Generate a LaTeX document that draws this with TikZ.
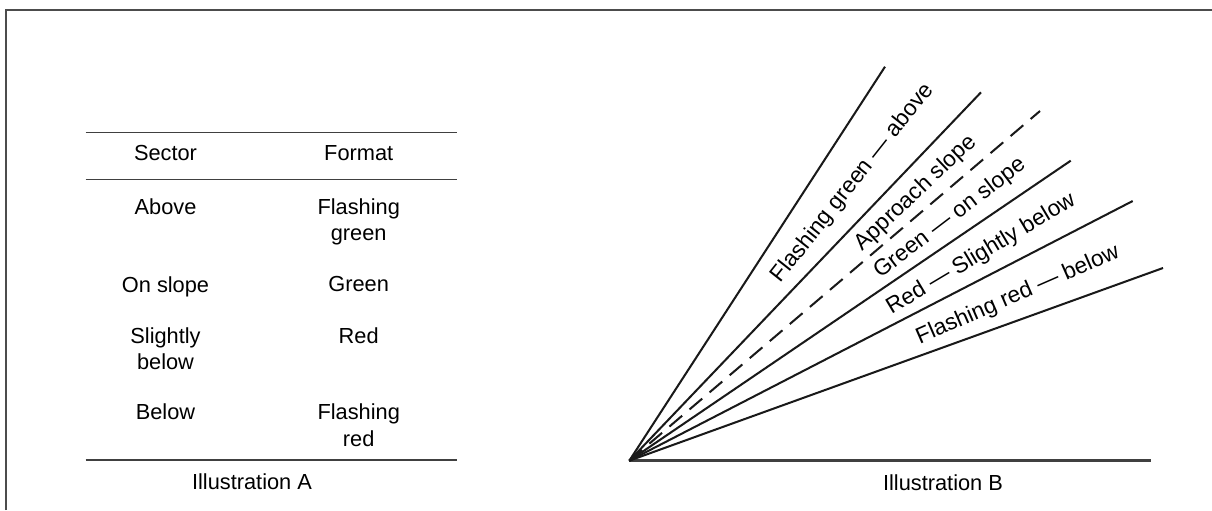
\documentclass[tikz,border=0pt]{standalone}
\usepackage{fontspec}
\setmainfont{Liberation Sans}
\usetikzlibrary{positioning}

\begin{document}
\begin{tikzpicture}[x=0.02cm, y=-0.02cm,
    font=\fontsize{12.4}{15.2}\selectfont,
    cell/.style={anchor=north, inner sep=0pt, align=center},
    hrule/.style={line width=0.9pt, draw=black!75},
    ray/.style={line width=1.15pt, draw=black!90},
    lbl/.style={inner sep=0pt, font=\fontsize{12.9}{15.2}\selectfont}]
  \useasboundingbox (0,0) rectangle (1212,510);
  % frame
  \draw[line width=1.2pt, draw=black!70] (5.7,510) -- (5.7,9.7) -- (1212,9.7);

  % Illustration A: table
  \draw[hrule] (85.7,132.7) -- (456.7,132.7);
  \draw[hrule] (85.7,179.3) -- (456.7,179.3);
  \draw[hrule] (85.7,460) -- (456.7,460);
  \node[cell] (sec) at (165.5,145) {Sector};
  \node[cell] (fmt) at (358.7,145) {Format};
  \node[cell] (s1) at (165.5,198) {Above};
  \node[cell] (f1) at (358.7,198) {Flashing\\green};
  \node[cell] (s2) at (165.5,276) {On slope};
  \node[cell] (f2) at (358.7,276) {Green};
  \node[cell] (s3) at (165.5,327) {Slightly\\below};
  \node[cell] (f3) at (358.7,327) {Red};
  \node[cell] (s4) at (165.5,403.7) {Below};
  \node[cell] (f4) at (358.7,403.7) {Flashing\\red};
  \node[cell] (capA) at (252,473.7) {Illustration A};

  % Illustration B: light sectors
  \coordinate (o) at (629.3,460.7);
  \coordinate (e0) at (1150.7,460.7);
  \coordinate (e1) at (885,66.7);
  \coordinate (e2) at (981,92.3);
  \coordinate (e3) at (1040,111);
  \coordinate (e4) at (1070.7,160.7);
  \coordinate (e5) at (1132.7,201);
  \coordinate (e6) at (1163,268);
  \draw[ray, line width=1.6pt, draw=black!75] (o) -- (e0);
  \foreach \n in {1,2,4,5,6}
    \draw[ray] (o) -- (e\n);
  \draw[ray, dash pattern=on 9.5pt off 5.5pt] (o) -- (e3);

  \node[lbl, rotate=51.6] (l1) at (852.7,183.3) {Flashing green — above};
  \node[lbl, rotate=43.4] (l2) at (916,193.3) {Approach slope};
  \node[lbl, rotate=37.3] (l3) at (950,218.3) {Green — on slope};
  \node[lbl, rotate=30.8] (l4) at (981.2,254.2) {Red — Slightly below};
  \node[lbl, rotate=23.6] (l5) at (1017.9,295) {Flashing red — below};
  \node[cell] (capB) at (943,474) {Illustration B};
\end{tikzpicture}
\end{document}
